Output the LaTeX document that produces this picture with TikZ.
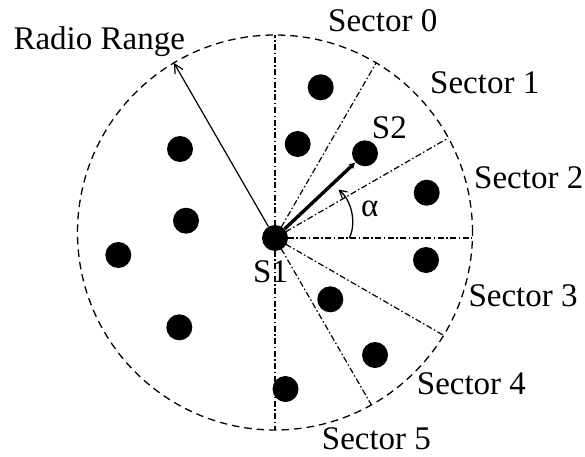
\documentclass[tikz,border=0pt]{standalone}
\usepackage{fontspec}
\setmainfont{Liberation Serif}
\usetikzlibrary{arrows.meta,calc}
\begin{document}
\begin{tikzpicture}[x=1pt,y=1pt,
  dot/.style={circle,fill=black,draw=none,minimum size=26pt,inner sep=0pt},
  lbl/.style={anchor=base west,inner sep=0pt,font=\fontsize{33}{38}\selectfont},
  rangeline/.style={line width=1.3pt,dash pattern=on 7.5pt off 5pt},
  sectorline/.style={line width=1.2pt,dash pattern=on 6pt off 2.5pt on 1.5pt off 2.5pt},
  thinarrow/.style={line width=1.2pt,-{Straight Barb[length=9pt,width=9pt]}},
  thickarrow/.style={line width=3.4pt,-{Latex[length=6pt,width=7pt]}},
  anglearrow/.style={line width=1.3pt,-{Straight Barb[length=7pt,width=8pt]}}]
\useasboundingbox (0,0) rectangle (585,456);
% range circle
\coordinate (C) at (275,223.5);
\draw[rangeline] (C) circle[radius=197.5];
% central node and neighbours
\node[dot] (S1) at (275,218) {};
\node[dot] (S2) at (365,302.7) {};
\node[dot] (d1) at (320.7,368.7) {};
\node[dot] (d2) at (297.7,312) {};
\node[dot] (d3) at (426.7,263.3) {};
\node[dot] (d4) at (426,196) {};
\node[dot] (d5) at (330.3,156.7) {};
\node[dot] (d6) at (375,101) {};
\node[dot] (d7) at (285.5,67) {};
\node[dot] (d8) at (180,307) {};
\node[dot] (d9) at (186,235.3) {};
\node[dot] (d10) at (118.3,201) {};
\node[dot] (d11) at (179.3,128.7) {};
% sector boundary end points on the circle
\coordinate (b90) at ($(S1.center)+(90:203)$);
\coordinate (b60) at ($(S1.center)+(60:202.25)$);
\coordinate (b30) at ($(S1.center)+(30:200.19)$);
\coordinate (b0) at ($(S1.center)+(0:197.42)$);
\coordinate (bm30) at ($(S1.center)+(-30:194.69)$);
\coordinate (bm60) at ($(S1.center)+(-60:192.72)$);
\coordinate (bm90) at ($(S1.center)+(-90:192)$);
\coordinate (RR) at ($(S1.center)+(120:202.25)$);
\foreach \b in {b90,b60,b30,b0,bm30,bm60,bm90}
  \draw[sectorline] (S1.center) -- (\b);
% radio range arrow
\draw[thinarrow] (S1) -- (RR);
% S1 -> S2
\draw[thickarrow] (S1) -- (S2);
% angle alpha
\coordinate (a0) at (349.3,218);
\coordinate (a1) at (338.5,266.5);
\draw[anglearrow] (a0) .. controls (356,231) and (353,254) .. (a1);
% labels
\node[lbl] (L0) at (328,424.3) {Sector 0};
\node[lbl] (L1) at (430,362.7) {Sector 1};
\node[lbl] (L2) at (474,267.7) {Sector 2};
\node[lbl] (L3) at (468.3,150) {Sector 3};
\node[lbl] (L4) at (416.7,61.7) {Sector 4};
\node[lbl] (L5) at (321.7,6.7) {Sector 5};
\node[lbl] (LS1) at (253,173.3) {S1};
\node[lbl] (LS2) at (371.7,317.7) {S2};
\node[lbl] (LR) at (13.3,406.7) {Radio Range};
\node[lbl] (La) at (361,240) {α};
\end{tikzpicture}
\end{document}
